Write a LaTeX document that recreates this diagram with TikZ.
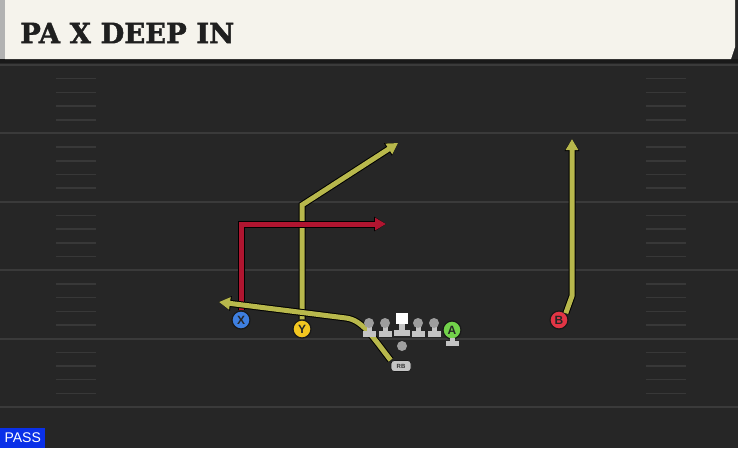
\documentclass[tikz,border=0pt]{standalone}
\usepackage{fontspec}
\setmainfont{Liberation Sans}
\newfontfamily\titlefont[FakeStretch=0.98,FakeBold=1.5]{DejaVu Serif Bold}
\usepackage{tikz}
\usetikzlibrary{arrows.meta}

\definecolor{turf}{HTML}{262626}
\definecolor{yardline}{HTML}{3A3A3A}
\definecolor{hashline}{HTML}{383838}
\definecolor{banner}{HTML}{F5F3EC}
\definecolor{olive}{HTML}{B8B84C}
\definecolor{crimson}{HTML}{B01530}
\definecolor{xblue}{HTML}{3E7FE0}
\definecolor{ygold}{HTML}{F2C620}
\definecolor{agreen}{HTML}{72D24A}
\definecolor{bred}{HTML}{E23545}
\definecolor{lineman}{HTML}{C4C4C4}
\definecolor{passblue}{HTML}{0A30E8}

\tikzset{
  route/.style={draw=#1, line width=5pt, -{Triangle[length=11pt,width=12pt]},
    preaction={draw=black, line width=7pt, -{Triangle[length=12pt,width=14pt]}}},
  player/.style={circle, draw=black!90, line width=1.2pt, fill=#1, minimum size=18pt,
    inner sep=0pt, text=black!85, font=\fontsize{12}{12}\selectfont\bfseries},
  rbtag/.style={rectangle, rounded corners=3pt, draw=black!90, line width=0.8pt,
    fill=lineman, minimum width=20pt, minimum height=11pt, inner sep=0pt,
    text=black!80, font=\fontsize{6}{6}\selectfont\bfseries},
}

\begin{document}
\begin{tikzpicture}[x=1pt,y=-1pt]
  \useasboundingbox (0,0) rectangle (738,448);
  \fill[turf] (0,0) rectangle (738,448);

  % バナー
  \fill[black!90] (0,59) rectangle (738,63);
  \fill[gray!60] (0,0) rectangle (5,59);
  \fill[banner] (5,0) -- (735,0) -- (735,47) -- (731,59) -- (5,59) -- cycle;
  \node[anchor=west, inner sep=0pt, text=black!88] (title) at (20,33)
    {\titlefont\fontsize{28}{28}\selectfont PA X DEEP IN};

  % フィールドの線
  \foreach \k in {0,...,5}{
    \pgfmathsetmacro{\yy}{65+68.4*\k}
    \draw[yardline, line width=2pt] (0,\yy) -- (738,\yy);
  }
  \foreach \k in {0,...,4}{
    \foreach \j in {1,...,4}{
      \pgfmathsetmacro{\yy}{65+68.4*\k+13.7*\j}
      \draw[hashline, line width=1.5pt] (56,\yy) -- (96,\yy);
      \draw[hashline, line width=1.5pt] (646,\yy) -- (686,\yy);
    }
  }

  \node[player=xblue] (x) at (241,320) {X};
  \node[player=ygold] (y) at (302,329) {Y};
  \node[player=agreen] (a) at (452,330) {A};
  \node[player=bred] (b) at (559,320) {B};
  \node[rbtag] (rb) at (401,366) {RB};

  % ルート
  \draw[route=olive] (y.north) -- (302,205) -- (398,143);
  \draw[route=crimson] (x.north) -- (241,224) -- (386,224);
  \draw[route=olive] (rb.north west) .. controls (372,336) and (362,320) .. (346,318) -- (219,302);
  \draw[route=olive] (b.north east) -- (572,296) -- (572,139);

  % ライン
  \foreach \x in {369,385,418,434}{
    \fill[lineman] (\x-6.5,331) rectangle (\x+6.5,336.5);
    \fill[lineman] (\x-2.5,324) rectangle (\x+2.5,331);
    \fill[lineman!80!black] (\x,323) circle (5pt);
  }
  \fill[white] (396,313) rectangle (408,324);
  \fill[lineman] (399,324) rectangle (405,330);
  \fill[lineman] (394,330) rectangle (410,335.5);
  \fill[lineman] (449.5,338) rectangle (454.5,341);
  \fill[lineman] (445.5,341) rectangle (458.5,346);
  \fill[gray!75] (402,346) circle (5pt);

  \node[anchor=south west, fill=passblue, text=white, minimum width=45pt,
    minimum height=20pt, inner sep=0pt, font=\fontsize{14}{14}\selectfont] (pass) at (0,448) {PASS};
\end{tikzpicture}
\end{document}
